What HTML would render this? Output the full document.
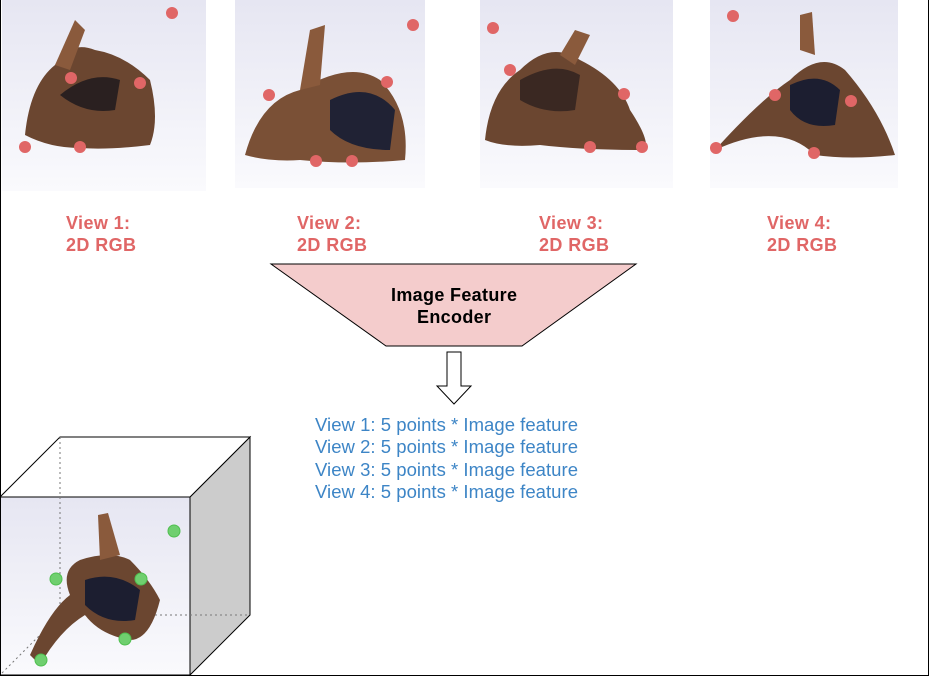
<!DOCTYPE html>
<html><head><meta charset="utf-8"><style>
body{margin:0;background:#fff;}
svg{display:block;font-family:"Liberation Sans",Arial,sans-serif;}
</style></head><body>
<svg width="931" height="678" viewBox="0 0 931 678">
<defs>
<linearGradient id="bg" x1="0" y1="0" x2="0" y2="1"><stop offset="0" stop-color="#e6e6f2"/><stop offset="1" stop-color="#fafafd"/></linearGradient>
</defs>
<line x1="0.5" y1="0" x2="0.5" y2="676" stroke="#000"/>
<line x1="928.5" y1="0" x2="928.5" y2="676" stroke="#000"/>
<line x1="0" y1="675.5" x2="929" y2="675.5" stroke="#000"/>

<g>
<rect x="2" y="0" width="204" height="191" fill="url(#bg)"/>
<path d="M25 135 Q30 85 55 65 Q70 40 95 50 Q125 55 150 80 Q160 120 150 145 Q110 150 80 148 Q50 148 25 135Z" fill="#6b4630"/>
<path d="M60 95 Q90 70 120 80 L115 110 Q85 115 60 95Z" fill="#2a2020"/>
<path d="M55 65 L75 20 L85 30 L70 70Z" fill="#8a5a3c"/>
<circle cx="172" cy="13" r="6" fill="#e06666"/><circle cx="71" cy="78" r="6" fill="#e06666"/><circle cx="140" cy="83" r="6" fill="#e06666"/><circle cx="25" cy="147" r="6" fill="#e06666"/><circle cx="80" cy="147" r="6" fill="#e06666"/>
</g>
<g>
<rect x="235" y="0" width="190" height="188" fill="url(#bg)"/>
<path d="M245 155 Q260 100 300 90 Q350 60 380 80 Q410 110 405 160 Q350 165 300 160 Q270 162 245 155Z" fill="#7a5036"/>
<path d="M330 100 Q370 80 395 110 L390 150 Q350 150 330 130Z" fill="#202234"/>
<path d="M300 90 L310 30 L325 25 L320 85Z" fill="#8a5a3c"/>
<circle cx="413" cy="25" r="6" fill="#e06666"/><circle cx="269" cy="95" r="6" fill="#e06666"/><circle cx="387" cy="82" r="6" fill="#e06666"/><circle cx="316" cy="161" r="6" fill="#e06666"/><circle cx="352" cy="161" r="6" fill="#e06666"/>
</g>
<g>
<rect x="480" y="0" width="193" height="188" fill="url(#bg)"/>
<path d="M485 140 Q490 90 520 70 Q550 40 580 60 Q620 80 630 110 Q650 140 645 150 Q580 150 540 145 Q505 148 485 140Z" fill="#6b4630"/>
<path d="M520 80 Q555 60 580 75 L575 110 Q545 115 520 100Z" fill="#3a2822"/>
<path d="M560 55 L575 30 L590 35 L575 65Z" fill="#8a5a3c"/>
<circle cx="493" cy="28" r="6" fill="#e06666"/><circle cx="510" cy="70" r="6" fill="#e06666"/><circle cx="624" cy="94" r="6" fill="#e06666"/><circle cx="590" cy="147" r="6" fill="#e06666"/><circle cx="642" cy="147" r="6" fill="#e06666"/>
</g>
<g>
<rect x="710" y="0" width="188" height="188" fill="url(#bg)"/>
<path d="M715 150 Q760 100 790 80 Q820 50 845 70 Q880 110 895 155 Q850 160 815 155 Q780 120 715 150Z" fill="#6b4630"/>
<path d="M790 85 Q820 70 840 90 L835 125 Q805 130 790 110Z" fill="#1c1e30"/>
<path d="M800 50 L800 15 L812 12 L815 55Z" fill="#8a5a3c"/>
<circle cx="733" cy="16" r="6" fill="#e06666"/><circle cx="775" cy="95" r="6" fill="#e06666"/><circle cx="851" cy="101" r="6" fill="#e06666"/><circle cx="716" cy="148" r="6" fill="#e06666"/><circle cx="814" cy="153" r="6" fill="#e06666"/>
</g>

<g fill="#e06666" font-weight="bold" font-size="18">
<text x="66" y="229" textLength="64">View 1:</text><text x="66" y="251" textLength="70">2D RGB</text>
<text x="297" y="229" textLength="64">View 2:</text><text x="297" y="251" textLength="70">2D RGB</text>
<text x="539" y="229" textLength="64">View 3:</text><text x="539" y="251" textLength="70">2D RGB</text>
<text x="767" y="229" textLength="64">View 4:</text><text x="767" y="251" textLength="70">2D RGB</text>
</g>

<polygon points="271,264 636,264 522,346 386,346" fill="#f4cccc" stroke="#000" stroke-width="1"/>
<text x="391" y="301" font-size="18" font-weight="bold" textLength="126" fill="#000">Image Feature</text>
<text x="417" y="323" font-size="18" font-weight="bold" textLength="74" fill="#000">Encoder</text>

<polygon points="447,352 461,352 461,386 471,386 454,404 437,386 447,386" fill="#fff" stroke="#000" stroke-width="1"/>

<g fill="#3d85c6" font-size="18.5">
<text x="315" y="431" textLength="263">View 1: 5 points * Image feature</text>
<text x="315" y="453" textLength="263">View 2: 5 points * Image feature</text>
<text x="315" y="476" textLength="263">View 3: 5 points * Image feature</text>
<text x="315" y="498" textLength="263">View 4: 5 points * Image feature</text>
</g>

<g>
<polygon points="190,497 250,437 250,615 190,675" fill="#cccccc" stroke="#000"/>
<polygon points="0,497 60,437 250,437 190,497" fill="#fff" stroke="#000"/>
<rect x="0.5" y="497" width="189.5" height="178" fill="url(#bg)" stroke="#000"/>
<line x1="60" y1="437" x2="60" y2="615" stroke="#777" stroke-dasharray="2,3"/>
<line x1="60" y1="615" x2="250" y2="615" stroke="#777" stroke-dasharray="2,3"/>
<line x1="60" y1="615" x2="0" y2="675" stroke="#777" stroke-dasharray="2,3"/>
<path d="M30 655 Q50 610 70 595 Q60 570 80 560 Q110 550 130 560 Q150 580 160 600 Q150 640 130 640 Q100 635 85 615 Q60 630 40 665Z" fill="#6b4630"/>
<path d="M85 580 Q115 570 140 590 L135 620 Q105 625 85 605Z" fill="#1c1e30"/>
<path d="M100 560 L98 515 L108 513 L120 555Z" fill="#8a5a3c"/>
<circle cx="174" cy="531" r="6" fill="#6fcf6f" stroke="#4fbf4f"/><circle cx="56" cy="579" r="6" fill="#6fcf6f" stroke="#4fbf4f"/><circle cx="141" cy="579" r="6" fill="#6fcf6f" stroke="#4fbf4f"/><circle cx="125" cy="639" r="6" fill="#6fcf6f" stroke="#4fbf4f"/><circle cx="41" cy="660" r="6" fill="#6fcf6f" stroke="#4fbf4f"/>
</g>
</svg>
</body></html>
